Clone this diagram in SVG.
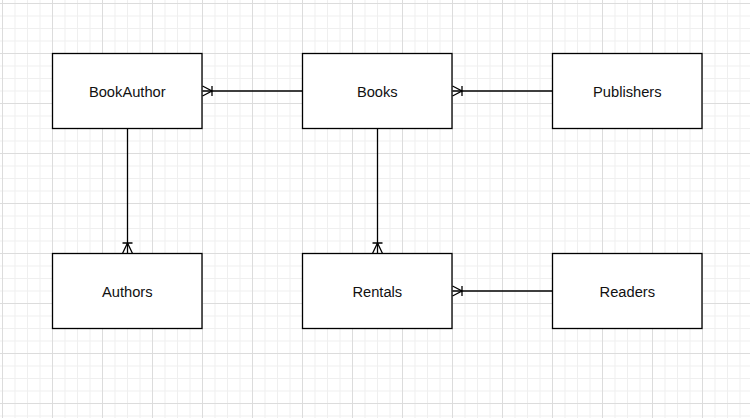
<svg xmlns="http://www.w3.org/2000/svg" width="750" height="418" viewBox="0 0 750 418">
  <defs>
    <pattern id="grid" x="2" y="3" width="50" height="50" patternUnits="userSpaceOnUse">
      <path d="M13 0V50M25.5 0V50M38 0V50M0 13H50M0 25.5H50M0 38H50" stroke="#efefef" stroke-width="1" fill="none"/>
      <path d="M0.5 0V50M0 0.5H50" stroke="#dcdcdc" stroke-width="1" fill="none"/>
    </pattern>
    <style>
      .box { fill: #ffffff; stroke: #000000; stroke-width: 1.3; }
      .lbl { font-family: "Liberation Sans", Arial, Helvetica, sans-serif; font-size: 14.7px; fill: #111111; text-anchor: middle; }
      .edge { fill: none; stroke: #000000; stroke-width: 1.3; }
    </style>
  </defs>
  <rect width="750" height="418" fill="#ffffff"/>
  <rect width="750" height="418" fill="url(#grid)"/>

  <g id="connectors">
    <!-- Books -> BookAuthor -->
    <g id="e-books-bookauthor">
      <path class="edge" d="M302 91H202.5"/>
      <path class="edge" d="M202.5 86L212 91L202.5 96M212 86V96"/>
    </g>
    <!-- Publishers -> Books -->
    <g id="e-publishers-books">
      <path class="edge" d="M552 91H452.5"/>
      <path class="edge" d="M452.5 86L462 91L452.5 96M462 86V96"/>
    </g>
    <!-- BookAuthor -> Authors -->
    <g id="e-bookauthor-authors">
      <path class="edge" d="M127.5 128.5V253.5"/>
      <path class="edge" d="M122.5 253.5L127.5 243L132.5 253.5M122.5 243H132.5"/>
    </g>
    <!-- Books -> Rentals -->
    <g id="e-books-rentals">
      <path class="edge" d="M377.5 128.5V253.5"/>
      <path class="edge" d="M372.5 253.5L377.5 243L382.5 253.5M372.5 243H382.5"/>
    </g>
    <!-- Readers -> Rentals -->
    <g id="e-readers-rentals">
      <path class="edge" d="M552 291H452.5"/>
      <path class="edge" d="M452.5 286L462 291L452.5 296M462 286V296"/>
    </g>
  </g>

  <g id="BookAuthor">
    <rect class="box" x="52.5" y="53.5" width="149.5" height="75"/>
    <text class="lbl" x="127.3" y="96.8">BookAuthor</text>
  </g>
  <g id="Books">
    <rect class="box" x="302.5" y="53.5" width="149.5" height="75"/>
    <text class="lbl" x="377.3" y="96.8">Books</text>
  </g>
  <g id="Publishers">
    <rect class="box" x="552.5" y="53.5" width="149.5" height="75"/>
    <text class="lbl" x="627.3" y="96.8">Publishers</text>
  </g>
  <g id="Authors">
    <rect class="box" x="52.5" y="253.5" width="149.5" height="75"/>
    <text class="lbl" x="127.3" y="296.8">Authors</text>
  </g>
  <g id="Rentals">
    <rect class="box" x="302.5" y="253.5" width="149.5" height="75"/>
    <text class="lbl" x="377.3" y="296.8">Rentals</text>
  </g>
  <g id="Readers">
    <rect class="box" x="552.5" y="253.5" width="149.5" height="75"/>
    <text class="lbl" x="627.3" y="296.8">Readers</text>
  </g>
</svg>
